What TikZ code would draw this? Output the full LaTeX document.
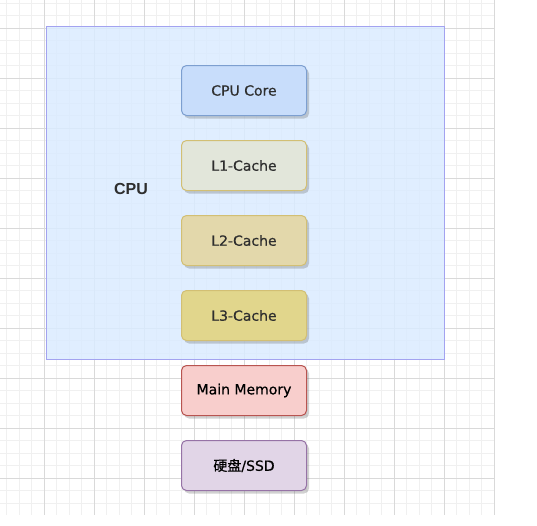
\documentclass[tikz,border=0pt]{standalone}
\usepackage{fontspec}
\setmainfont{DejaVu Sans}
\newfontfamily\boxfont[FakeBold=0.6]{DejaVu Sans}
\newfontfamily\cjk[FakeBold=0.6]{Noto Sans CJK SC}
\newfontfamily\labfont{Liberation Sans}
\usetikzlibrary{shadows}
\definecolor{gridminor}{HTML}{F0F0F0}
\definecolor{gridmajor}{HTML}{D9D9D9}
\definecolor{cpufill}{HTML}{DAEBFF}
\definecolor{cpudraw}{HTML}{A3A3F0}
\definecolor{txt}{HTML}{2E2E2E}
\definecolor{corefill}{HTML}{C8DDFB}
\definecolor{coredraw}{HTML}{7D9FD0}
\definecolor{lonefill}{HTML}{E2E6DA}
\definecolor{ltwofill}{HTML}{E3D8AB}
\definecolor{lthreefill}{HTML}{E1D68C}
\definecolor{cachedraw}{HTML}{D2BF74}
\definecolor{memfill}{HTML}{F8CECC}
\definecolor{memdraw}{HTML}{B85450}
\definecolor{ssdfill}{HTML}{E1D5E7}
\definecolor{ssddraw}{HTML}{9673A6}
\tikzset{
  hwbox/.style={rectangle, rounded corners=5pt, minimum width=125pt, minimum height=50pt,
    line width=1pt, font=\boxfont\fontsize{14}{16}\selectfont, text=txt,
    drop shadow={shadow xshift=2.5pt, shadow yshift=-3pt, opacity=0.3, fill=black!60}},
  cpuarea/.style={rectangle, draw=cpudraw, fill=cpufill, fill opacity=0.85, line width=1pt,
    minimum width=398pt, minimum height=333pt, inner sep=0pt},
  cpulabel/.style={font=\labfont\bfseries\fontsize{16}{18}\selectfont, text=txt}
}
\begin{document}
\begin{tikzpicture}[x=1pt,y=-1pt]
\useasboundingbox (0,0) rectangle (537,525);
% grid
\foreach \x in {6.8,19.3,...,495} \draw[gridminor, line width=1pt] (\x,0) -- (\x,515);
\foreach \y in {3.3,15.8,...,515} \draw[gridminor, line width=1pt] (0,\y) -- (495,\y);
\foreach \x in {44.3,94.3,...,495} \draw[gridmajor, line width=1pt] (\x,0) -- (\x,515);
\foreach \y in {28.3,78.3,...,515} \draw[gridmajor, line width=1pt] (0,\y) -- (495,\y);
% CPU area
\node[cpuarea] (cpu) at (245.3,192.8) {};
\node[cpulabel] (cpulab) at (131,189) {CPU};
% boxes
\node[hwbox, draw=coredraw, fill=corefill] (core) at (244,90.5) {CPU Core};
\node[hwbox, draw=cachedraw, fill=lonefill] (l1) at (244,165.5) {L1-Cache};
\node[hwbox, draw=cachedraw, fill=ltwofill] (l2) at (244,240.5) {L2-Cache};
\node[hwbox, draw=cachedraw, fill=lthreefill] (l3) at (244,315.5) {L3-Cache};
\node[hwbox, draw=memdraw, fill=memfill, text=black] (mem) at (244,390.5) {Main Memory};
\node[hwbox, draw=ssddraw, fill=ssdfill, text=black] (ssd) at (244,465.5) {{\cjk 硬盘}/SSD};
\end{tikzpicture}
\end{document}
